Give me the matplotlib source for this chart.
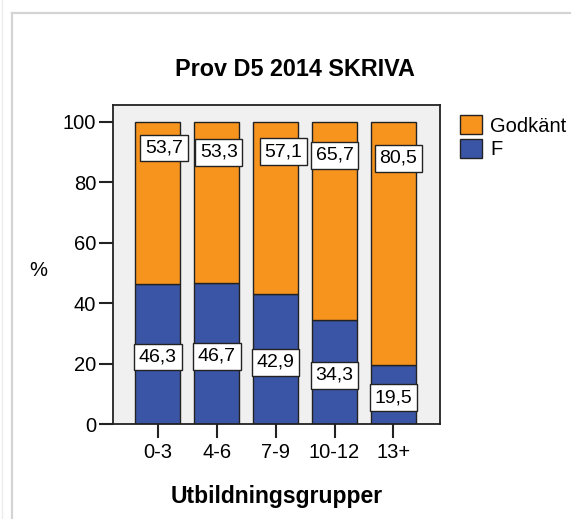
import matplotlib.pyplot as plt
from matplotlib.lines import Line2D

# data
groups = ["0-3", "4-6", "7-9", "10-12", "13+"]
f_pct = [46.3, 46.7, 42.9, 34.3, 19.5]
godkant_pct = [53.7, 53.3, 57.1, 65.7, 80.5]
f_labels = ["46,3", "46,7", "42,9", "34,3", "19,5"]
godkant_labels = ["53,7", "53,3", "57,1", "65,7", "80,5"]

# where SPSS put the Godkänt labels (layout only: y in data units, x shift in px)
godkant_label_y = [91.4, 89.9, 90.1, 88.9, 87.9]
godkant_label_dx = [6, 2, 8, 0, 5]

ORANGE = "#f7941e"
BLUE = "#3a55a6"

plt.rcParams["font.family"] = ["Liberation Sans", "DejaVu Sans"]

fig = plt.figure(figsize=(5.71, 5.19), dpi=100)
fig.patch.set_facecolor("white")

# faint page frame
fig.add_artist(Line2D([12 / 571, 12 / 571], [0, 1 - 13 / 519], color="#d4d4d4", lw=1.6))
fig.add_artist(Line2D([12 / 571, 1], [1 - 13 / 519, 1 - 13 / 519], color="#d4d4d4", lw=1.6))
fig.add_artist(Line2D([2 / 571, 2 / 571], [0, 1], color="#ececec", lw=1.0))

ax = fig.add_axes([113 / 571, 1 - 424 / 519, (440 - 113) / 571, (424 - 105) / 519])
ax.set_facecolor("#f0f0f0")

x = list(range(len(groups)))
width = 0.77
ax.bar(x, f_pct, width, color=BLUE, edgecolor="#222222", linewidth=1.0, label="F", zorder=2)
ax.bar(x, godkant_pct, width, bottom=f_pct, color=ORANGE, edgecolor="#222222",
       linewidth=1.0, label="Godkänt", zorder=2)

box = dict(boxstyle="square,pad=0.25", facecolor="white", edgecolor="#222222", linewidth=1.0)
for i in x:
    ax.text(i, f_pct[i] / 2 - 1, f_labels[i], ha="center", va="center",
            fontsize=14, bbox=box, zorder=3)
    ax.annotate(godkant_labels[i], (i, godkant_label_y[i]),
                xytext=(godkant_label_dx[i] * 0.72, 0), textcoords="offset points",
                ha="center", va="center", fontsize=14, bbox=box, zorder=3)

ax.set_xlim(-0.76, 4.79)
ax.set_ylim(0, 105.6)
ax.set_yticks([0, 20, 40, 60, 80, 100])
ax.set_xticks(x)
ax.set_xticklabels(groups)
ax.tick_params(axis="both", labelsize=14.5, length=10, width=1.5, color="#222222", pad=2)
ax.tick_params(axis="x", pad=4)
for side in ["top", "right", "left", "bottom"]:
    ax.spines[side].set_color("#222222")
    ax.spines[side].set_linewidth(1.3)

ax.set_xlabel("Utbildningsgrupper", fontsize=16.5, fontweight="bold", labelpad=16)
fig.text(38 / 571, 1 - 270 / 519, "%", fontsize=14.5, ha="center", va="center")
fig.text(295 / 571, 1 - 70 / 519, "Prov D5 2014 SKRIVA", fontsize=16.8,
         fontweight="bold", ha="center", va="center")

handles, labels = ax.get_legend_handles_labels()
leg = fig.legend(handles[::-1], labels[::-1], loc="upper left",
                 bbox_to_anchor=(452 / 571, 1 - 107 / 519), frameon=False,
                 fontsize=14.5, handlelength=1.1, handleheight=1.1,
                 handletextpad=0.4, labelspacing=0.15, borderaxespad=0)

fig.savefig("out.png", dpi=100)
